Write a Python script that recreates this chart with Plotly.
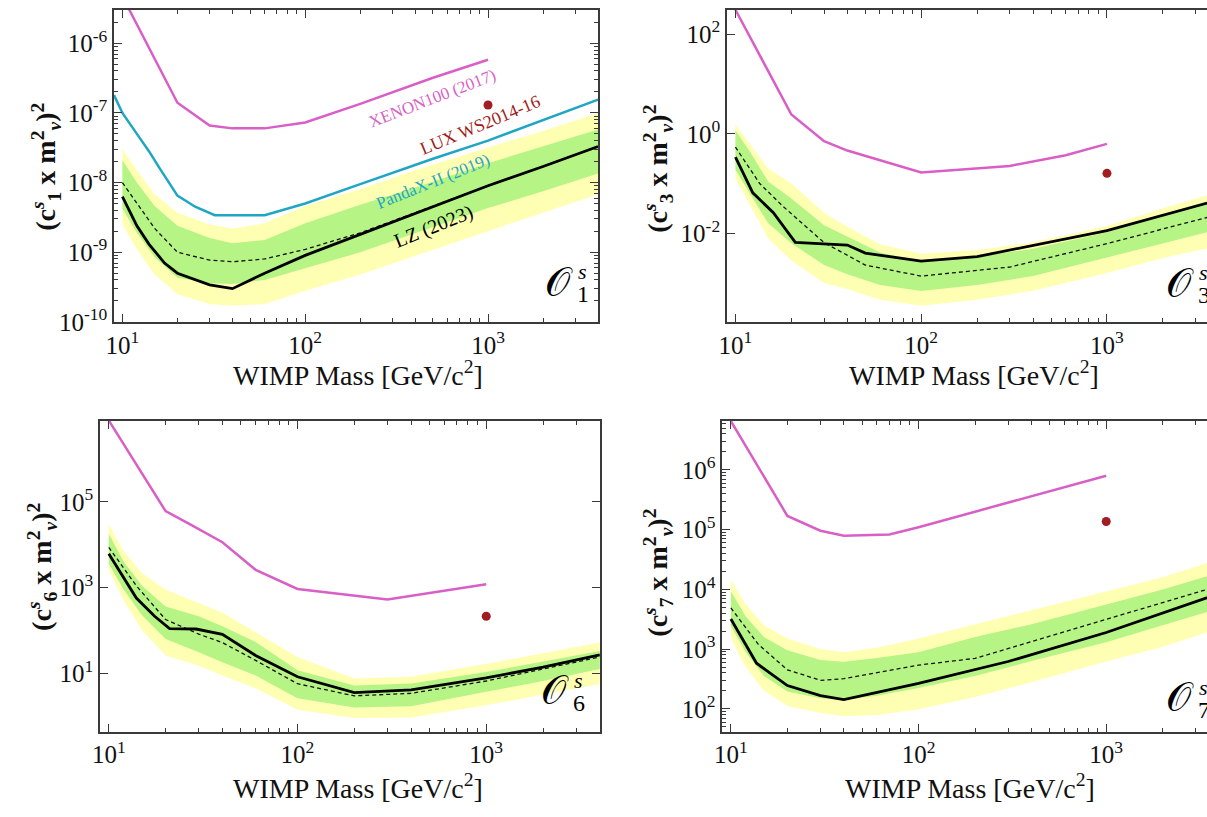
import plotly.graph_objects as go

W, H = 1207, 817

# ---------------- data (WIMP mass in GeV/c^2) ----------------
M_BAND = [10, 12, 15, 20, 30, 40, 60, 100, 200, 400, 1000, 2000, 4000]

# ---- O1 ----
XENON_M1 = [10, 20, 30, 40, 60, 100, 200, 500, 1000]
XENON_1 = [4.7e-6, 1.4e-7, 6.6e-8, 6.0e-8, 6.0e-8, 7.3e-8, 1.35e-7, 3.2e-7, 5.8e-7]
PANDA_M1 = [9, 10, 12, 14, 16, 20, 25, 32, 60, 100, 200, 500, 1000, 2000, 4000]
PANDA_1 = [1.8e-7, 1.0e-7, 5.0e-8, 2.8e-8, 1.6e-8, 6.5e-9, 4.5e-9, 3.4e-9, 3.4e-9, 5.0e-9,
           9.5e-9, 2.2e-8, 4.0e-8, 7.8e-8, 1.55e-7]
LZ_M1 = [10, 12, 14, 17, 20, 30, 40, 60, 100, 200, 400, 1000, 2000, 4000]
LZ_1 = [6.3e-9, 2.4e-9, 1.3e-9, 7.0e-10, 5.0e-10, 3.4e-10, 3.0e-10, 5.0e-10, 9.0e-10,
        1.8e-9, 3.6e-9, 9.0e-9, 1.7e-8, 3.3e-8]
EXP_M1 = [10, 12, 15, 20, 30, 40, 60, 100, 200, 300, 1000, 2000, 4000]
EXP_1 = [1.0e-8, 5.0e-9, 2.2e-9, 1.0e-9, 7.7e-10, 7.3e-10, 8.0e-10, 1.1e-9, 1.9e-9,
         2.8e-9, 9.0e-9, 1.7e-8, 3.3e-8]
G1_HI = [2.1e-8, 1.0e-8, 4.6e-9, 2.4e-9, 1.6e-9, 1.35e-9, 1.5e-9, 2.6e-9, 4.8e-9, 8.5e-9, 1.9e-8, 3.3e-8, 5.8e-8]
G1_LO = [4.2e-9, 1.9e-9, 8.5e-10, 4.3e-10, 3.6e-10, 3.5e-10, 4.0e-10, 5.9e-10, 1.0e-9, 1.9e-9, 4.3e-9, 7.5e-9, 1.35e-8]
Y1_HI = [3.0e-8, 1.5e-8, 6.8e-9, 3.7e-9, 2.5e-9, 2.2e-9, 2.6e-9, 4.6e-9, 8.0e-9, 1.5e-8, 3.2e-8, 5.5e-8, 1.0e-7]
Y1_LO = [2.5e-9, 1.1e-9, 4.8e-10, 2.5e-10, 1.8e-10, 1.7e-10, 1.8e-10, 2.8e-10, 4.8e-10, 8.8e-10, 2.0e-9, 3.7e-9, 6.8e-9]
LUX_1 = 1.3e-7

# ---- O3 ----
XENON_M3 = [10, 20, 30, 40, 100, 200, 300, 600, 1000]
XENON_3 = [310, 2.44, 0.71, 0.46, 0.166, 0.2, 0.226, 0.37, 0.625]
LZ_M3 = [10, 12.4, 16, 21, 40, 50, 100, 200, 1000, 4000]
LZ_3 = [0.34, 0.065, 0.026, 0.0066, 0.0058, 0.004, 0.00275, 0.0034, 0.0113, 0.047]
EXP_M3 = [10, 13.5, 18, 22, 30, 50, 100, 300, 1000, 4000]
EXP_3 = [0.54, 0.10, 0.035, 0.018, 0.0065, 0.0023, 0.00138, 0.0021, 0.0062, 0.024]
G3_HI = [1.17, 0.43, 0.11, 0.05, 0.0145, 0.0085, 0.0041, 0.00275, 0.0034, 0.0049, 0.0105, 0.024, 0.052]
G3_LO = [0.186, 0.063, 0.016, 0.0063, 0.0023, 0.0015, 0.00091, 0.00069, 0.00091, 0.00138, 0.0032, 0.0063, 0.012]
Y3_HI = [1.55, 0.63, 0.2, 0.1, 0.026, 0.0135, 0.006, 0.0039, 0.0046, 0.0066, 0.014, 0.032, 0.068]
Y3_LO = [0.126, 0.035, 0.0079, 0.0028, 0.001, 0.00076, 0.00046, 0.00035, 0.00046, 0.0007, 0.0016, 0.0032, 0.0056]
LUX_3 = 0.16

# ---- O6 ----
XENON_M6 = [10, 20, 27, 40, 60, 100, 300, 1000]
XENON_6 = [8e6, 6.1e4, 3e4, 1.15e4, 2.6e3, 930, 525, 1.2e3]
LZ_M6 = [10, 14, 17.5, 21, 29, 40, 60, 100, 200, 400, 1000, 2000, 4000]
LZ_6 = [6.2e3, 570, 215, 110, 108, 81, 26, 8.3, 3.55, 4.1, 7.8, 14, 27]
EXP_M6 = [10, 14, 20, 30, 40, 60, 100, 200, 400, 1000, 4000]
EXP_6 = [8.7e3, 1.1e3, 180, 82, 52, 20, 5.7, 2.97, 3.4, 6.6, 24]
G6_HI = [1.8e4, 4e3, 1.1e3, 360, 215, 125, 54, 11.7, 5.2, 5.8, 10.7, 19, 33]
G6_LO = [3.6e3, 890, 225, 63, 31, 18, 8.9, 2.6, 1.6, 1.7, 3.7, 6.6, 12.6]
Y6_HI = [3e4, 7.1e3, 2.2e3, 890, 440, 260, 91, 24, 7.6, 8.3, 16.6, 29.5, 52]
Y6_LO = [2.6e3, 500, 100, 26, 15, 8.9, 4.5, 1.4, 0.91, 0.93, 1.8, 3.2, 5.6]
LUX_6 = 215

# ---- O7 ----
XENON_M7 = [10, 20, 30, 40, 70, 100, 200, 500, 1000]
XENON_7 = [6.6e6, 1.7e5, 9.6e4, 7.9e4, 8.3e4, 1.1e5, 2.0e5, 4.4e5, 8.0e5]
LZ_M7 = [10, 13.7, 20, 30, 40, 100, 300, 1000, 4000]
LZ_7 = [3.2e3, 580, 245, 166, 143, 267, 620, 1.9e3, 8.5e3]
EXP_M7 = [10, 14, 20, 30, 40, 100, 200, 1000, 4000]
EXP_7 = [4.9e3, 1.2e3, 450, 300, 320, 540, 700, 3.2e3, 1.15e4]
G7_HI = [9.3e3, 3.5e3, 1.6e3, 955, 660, 615, 710, 890, 1.6e3, 2.6e3, 5.6e3, 1.0e4, 1.9e4]
G7_LO = [2.45e3, 890, 355, 195, 150, 141, 166, 224, 355, 630, 1.3e3, 2.5e3, 4.8e3]
Y7_HI = [1.45e4, 5.6e3, 2.5e3, 1.5e3, 1.0e3, 890, 1.05e3, 1.5e3, 2.6e3, 4.5e3, 9.3e3, 1.6e4, 3.2e4]
Y7_LO = [1.5e3, 500, 200, 112, 85, 76, 79, 98, 158, 280, 620, 1.1e3, 2.2e3]
LUX_7 = 1.37e5

LUX_MASS = 1000

# tick labels
X_TICKS = [10, 100, 1000]
X_TICKTEXT = ["10<sup>1</sup>", "10<sup>2</sup>", "10<sup>3</sup>"]
X_MINOR = [20, 30, 40, 50, 60, 70, 80, 90, 200, 300, 400, 500, 600, 700, 800, 900, 2000, 3000, 4000]
Y1_TICKS = [1e-10, 1e-9, 1e-8, 1e-7, 1e-6]
Y1_TICKTEXT = ["10<sup>-10</sup>", "10<sup>-9</sup>", "10<sup>-8</sup>", "10<sup>-7</sup>", "10<sup>-6</sup>"]
Y3_TICKS = [1e-2, 1, 1e2]
Y3_TICKTEXT = ["10<sup>-2</sup>", "10<sup>0</sup>", "10<sup>2</sup>"]
Y6_TICKS = [10, 1e3, 1e5]
Y6_TICKTEXT = ["10<sup>1</sup>", "10<sup>3</sup>", "10<sup>5</sup>"]
Y7_TICKS = [1e2, 1e3, 1e4, 1e5, 1e6]
Y7_TICKTEXT = ["10<sup>2</sup>", "10<sup>3</sup>", "10<sup>4</sup>", "10<sup>5</sup>", "10<sup>6</sup>"]

# ---------------- style ----------------
MAGENTA = "#d95fc6"
TEAL = "#1fa6c2"
DARKRED = "#a11d21"
GREEN = "#b6f585"
YELLOW = "#ffffb4"
AXIS = "#3a3a3a"
SERIF = "Liberation Serif, Times New Roman, serif"
TICKSIZE = 25


def minor_decades(lo_exp, hi_exp):
    vals = []
    for e in range(lo_exp, hi_exp + 1):
        for m in range(2, 10):
            vals.append(m * 10.0 ** e)
    return vals


fig = go.Figure()


def band(xa, ya, lo, hi, color):
    fig.add_trace(go.Scatter(
        x=M_BAND + M_BAND[::-1], y=hi + lo[::-1], mode="lines", fill="toself",
        fillcolor=color, line=dict(width=0), hoverinfo="skip", showlegend=False,
        xaxis=xa, yaxis=ya))


def line(xa, ya, x, y, color, width, dash="solid"):
    fig.add_trace(go.Scatter(
        x=x, y=y, mode="lines", line=dict(color=color, width=width, dash=dash),
        showlegend=False, xaxis=xa, yaxis=ya))


def dot(xa, ya, y):
    fig.add_trace(go.Scatter(
        x=[LUX_MASS], y=[y], mode="markers", marker=dict(color=DARKRED, size=9),
        showlegend=False, xaxis=xa, yaxis=ya))


panels = [
    ("x", "y", Y1_LO, Y1_HI, G1_LO, G1_HI, XENON_M1, XENON_1, LZ_M1, LZ_1, EXP_M1, EXP_1, LUX_1),
    ("x2", "y2", Y3_LO, Y3_HI, G3_LO, G3_HI, XENON_M3, XENON_3, LZ_M3, LZ_3, EXP_M3, EXP_3, LUX_3),
    ("x3", "y3", Y6_LO, Y6_HI, G6_LO, G6_HI, XENON_M6, XENON_6, LZ_M6, LZ_6, EXP_M6, EXP_6, LUX_6),
    ("x4", "y4", Y7_LO, Y7_HI, G7_LO, G7_HI, XENON_M7, XENON_7, LZ_M7, LZ_7, EXP_M7, EXP_7, LUX_7),
]
for i, (xa, ya, ylo, yhi, glo, ghi, xm, xv, lm, lv, em, ev, lux) in enumerate(panels):
    band(xa, ya, ylo, yhi, YELLOW)
    band(xa, ya, glo, ghi, GREEN)
    line(xa, ya, xm, xv, MAGENTA, 2.5)
    if i == 0:
        line(xa, ya, PANDA_M1, PANDA_1, TEAL, 2.5)
    line(xa, ya, em, ev, "#111111", 1.3, "4px,3px")
    line(xa, ya, lm, lv, "#000000", 2.8)
    dot(xa, ya, lux)


def xaxis(domain, rng):
    return dict(
        type="log", domain=domain, range=rng, showline=True, linecolor=AXIS, linewidth=1.5,
        mirror="ticks", ticks="inside", ticklen=8, tickwidth=1.3, tickcolor=AXIS,
        tickvals=X_TICKS, ticktext=X_TICKTEXT, showgrid=False, zeroline=False,
        tickfont=dict(family=SERIF, size=TICKSIZE, color="#111"),
        minor=dict(tickvals=X_MINOR, ticks="inside", ticklen=4, tickwidth=1.1,
                   tickcolor=AXIS, showgrid=False),
    )


def yaxis(domain, rng, tv, tt, minor, mirror=True):
    d = dict(
        type="log", domain=domain, range=rng, showline=True, linecolor=AXIS, linewidth=1.5,
        mirror="ticks" if mirror else False, ticks="inside", ticklen=8, tickwidth=1.3,
        tickcolor=AXIS, tickvals=tv, ticktext=tt, showgrid=False, zeroline=False,
        tickfont=dict(family=SERIF, size=TICKSIZE, color="#111"),
    )
    if minor:
        d["minor"] = dict(tickvals=minor, ticks="inside", ticklen=4, tickwidth=1.1,
                          tickcolor=AXIS, showgrid=False)
    return d


top_dom = [1 - 327.5 / H, 1 - 10 / H]
bot_dom = [1 - 744.3 / H, 1 - 428.3 / H]

fig.update_layout(
    width=W, height=H, margin=dict(l=0, r=0, t=0, b=0),
    paper_bgcolor="white", plot_bgcolor="white", showlegend=False,
    xaxis=dict(xaxis([106.7 / W, 594.0 / W], [0.954, 3.602]), anchor="y"),
    yaxis=dict(yaxis(top_dom, [-10.0, -5.52], Y1_TICKS, Y1_TICKTEXT, minor_decades(-10, -6)), anchor="x"),
    xaxis2=dict(xaxis([723.7 / W, 1.0], [0.954, 3.5385]), anchor="y2"),
    yaxis2=dict(yaxis(top_dom, [-3.78, 2.49], Y3_TICKS, Y3_TICKTEXT, None, mirror=False), anchor="x2"),
    xaxis3=dict(xaxis([92.7 / W, 595.8 / W], [0.954, 3.602]), anchor="y3"),
    yaxis3=dict(yaxis(bot_dom, [-0.36, 6.89], Y6_TICKS, Y6_TICKTEXT, None), anchor="x3"),
    xaxis4=dict(xaxis([719.0 / W, 1.0], [0.954, 3.537]), anchor="y4"),
    yaxis4=dict(yaxis(bot_dom, [1.62, 6.82], Y7_TICKS, Y7_TICKTEXT, minor_decades(1, 6), mirror=False), anchor="x4"),
)


def ann(text, px, py, size, color="#111", angle=0, family=SERIF, xanchor="center", yanchor="middle"):
    fig.add_annotation(
        text=text, x=px / W, y=1 - py / H, xref="paper", yref="paper", showarrow=False,
        textangle=angle, xanchor=xanchor, yanchor=yanchor,
        font=dict(family=family, size=size, color=color))


XTITLE = "WIMP Mass [GeV/c<sup>2</sup>]"
for (px, py) in [(352, 380), (972, 380), (352, 800), (968, 800)]:
    ann(XTITLE, px, py, 28)

for (sub, px, py) in [("1", 38, 170), ("3", 654, 172), ("6", 34, 577), ("7", 654, 583)]:
    ann("<b>(c<sup><i>s</i></sup><sub>%s</sub> x m<sup>2</sup><sub><i>v</i></sub>)<sup>2</sup></b>" % sub,
        px, py, 28, angle=-90)

# curve labels (top-left)
ann("XENON100 (2017)", 427, 100, 17, MAGENTA, angle=-21)
ann("LUX WS2014-16", 475, 127, 18, DARKRED, angle=-22.5)
ann("PandaX-II (2019)", 428, 185, 17, TEAL, angle=-22)
ann("LZ (2023)", 428, 230, 20, "#000", angle=-22)

# operator labels: script O with stacked superscript s and numeric subscript
for (sub, ox, oy) in [("1", 571, 287), ("3", 1196, 288), ("6", 567, 703), ("7", 1196, 710)]:
    ann("𝒪", ox, oy, 40, "#000", xanchor="right")
    ann("<i>s</i>", ox + 1, oy - 11, 22, "#000", xanchor="left")
    ann(sub, ox, oy + 12, 24, "#000", xanchor="left")

fig.write_html("out.html")
